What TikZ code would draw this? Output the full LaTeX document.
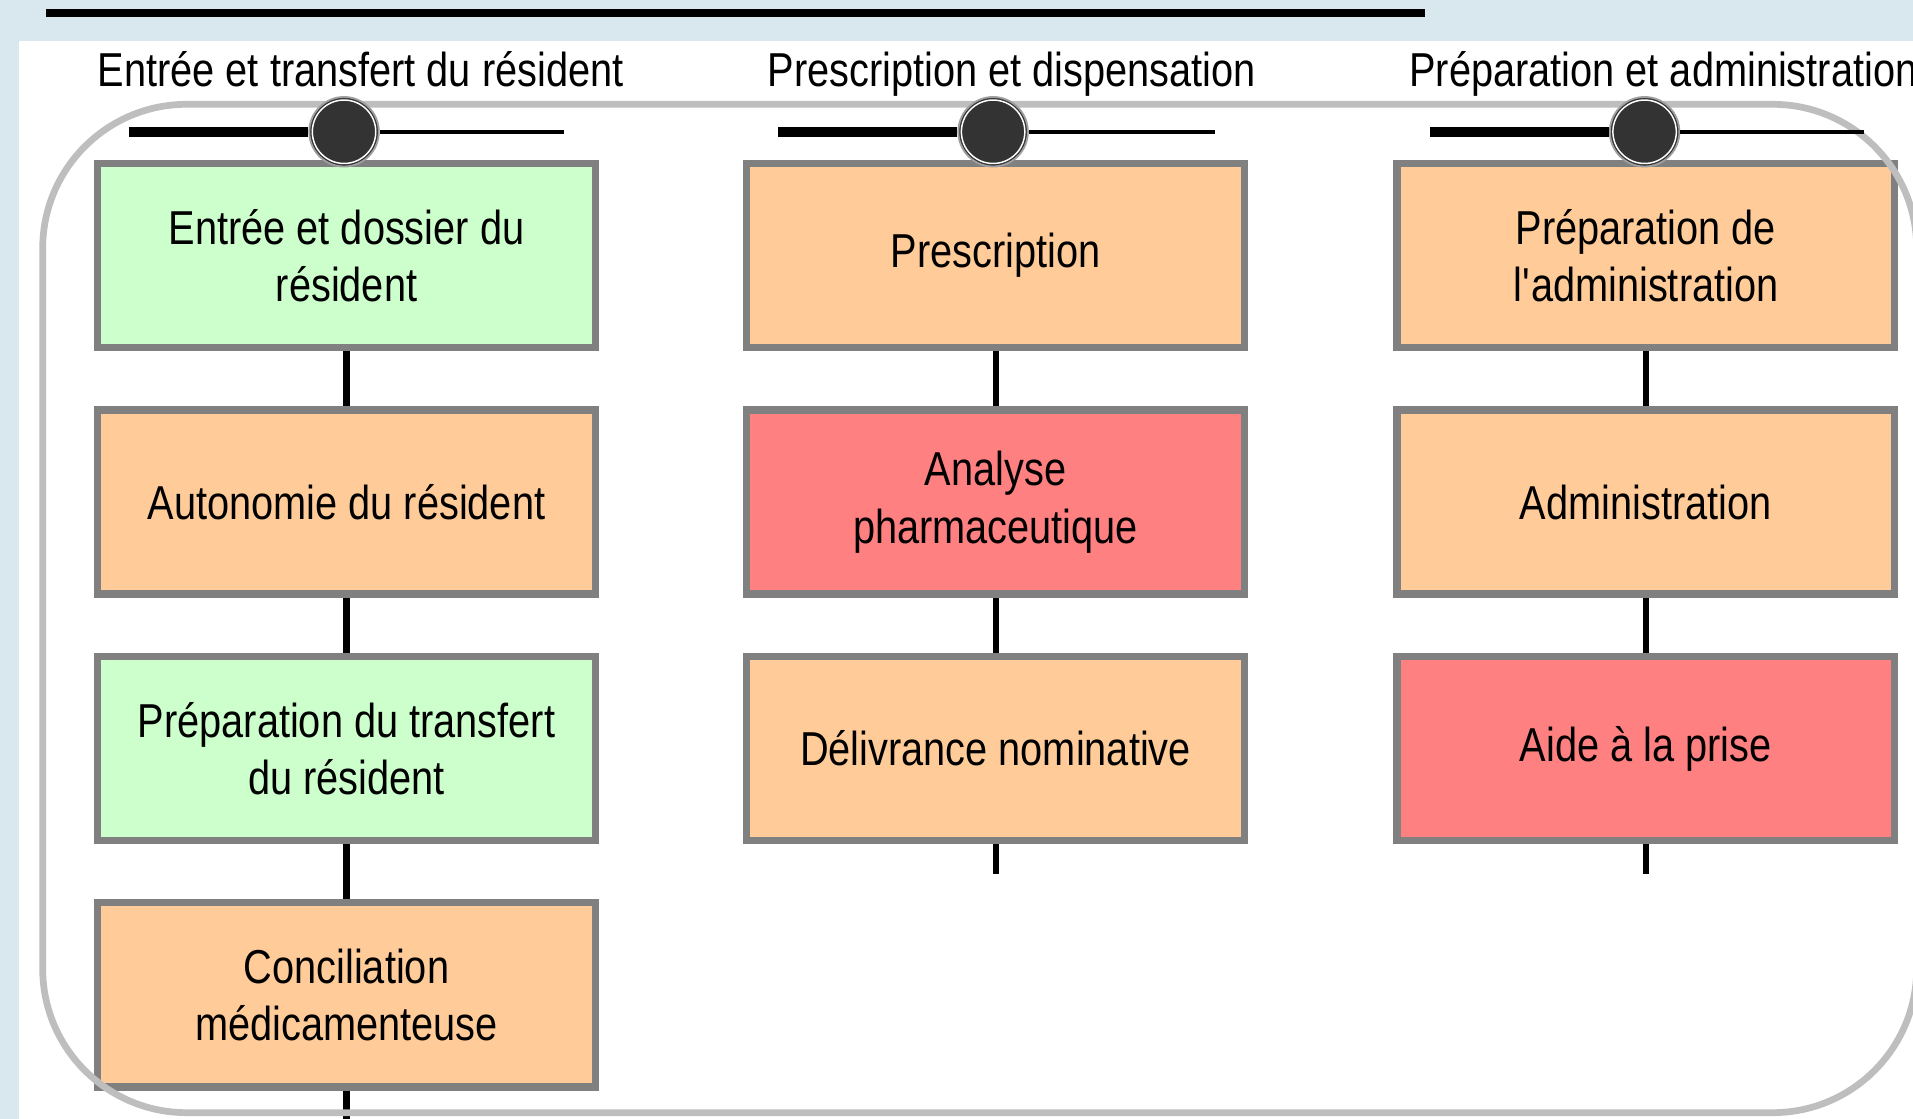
\documentclass[tikz,border=0pt]{standalone}
\usepackage{fontspec}
\setmainfont[FakeStretch=0.835]{Liberation Sans}
\usetikzlibrary{positioning}
\definecolor{fondbleu}{HTML}{D8E8EE}
\definecolor{cvert}{HTML}{CCFFCC}
\definecolor{corange}{HTML}{FFCC99}
\definecolor{crouge}{HTML}{FF8080}
\definecolor{bordgris}{HTML}{808080}
\definecolor{cadregris}{HTML}{BEBEBE}
\definecolor{jalongris}{HTML}{333333}
\tikzset{
	etape/.style 2 args={draw=bordgris,line width=6pt,fill=#1,minimum width=408pt,minimum height=151pt,inner sep=0pt,outer sep=0pt,align=center,font=\fontsize{39}{47}\selectfont,name=#2},
	jalon/.style={circle,fill=jalongris,draw=gray!75,line width=1.5pt,minimum size=57pt,inner sep=0pt,name=#1},
	titre/.style={anchor=base west,inner sep=0pt,font=\fontsize{39}{47}\selectfont},
	lien/.style={line width=5pt,shorten <=3pt,shorten >=3pt}
}
\begin{document}
\begin{tikzpicture}[x=1pt,y=-1pt]
	\useasboundingbox (0,0) rectangle (1568,917);
	\fill [fondbleu] (0,0) rectangle (1568,917);
	\fill [white] (15.6,33.6) rectangle (1568,917);
	\fill [black] (38,7.6) rectangle (1168,13.7);

	% entree et transfert
	\node [etape={cvert}{e1}] at (284,209.5) {Entrée et dossier du\\résident};
	\node [etape={corange}{e2}, below=51pt of e1] {Autonomie du résident};
	\node [etape={cvert}{e3}, below=51pt of e2] {Préparation du transfert\\du résident};
	\node [etape={corange}{e4}, below=51pt of e3] {Conciliation\\médicamenteuse};
	\coordinate (e5) at (284,925);
	\draw [lien] (e1) -- (e2);
	\draw [lien] (e2) -- (e3);
	\draw [lien] (e3) -- (e4);
	\draw [lien, shorten >=0pt] (e4) -- (e5);

	% prescription et dispensation
	\node [etape={corange}{p1}] at (816,209.5) {Prescription};
	\node [etape={crouge}{p2}, below=51pt of p1] {Analyse\\pharmaceutique};
	\node [etape={corange}{p3}, below=51pt of p2] {Délivrance nominative};
	\coordinate (p4) at (816,716);
	\draw [lien] (p1) -- (p2);
	\draw [lien] (p2) -- (p3);
	\draw [lien, shorten >=0pt] (p3) -- (p4);

	% preparation et administration
	\node [etape={corange}{a1}] at (1349,209.5) {Préparation de\\l\textquotesingle administration};
	\node [etape={corange}{a2}, below=51pt of a1] {Administration};
	\node [etape={crouge}{a3}, below=51pt of a2] {Aide à la prise};
	\coordinate (a4) at (1349,716);
	\draw [lien] (a1) -- (a2);
	\draw [lien] (a2) -- (a3);
	\draw [lien, shorten >=0pt] (a3) -- (a4);

	\draw [cadregris, line width=5.5pt, rounded corners=118pt] (35,85.5) rectangle (1571,912);

	\node [jalon=j1] at (282,108) {};
	\node [jalon=j2] at (814,108) {};
	\node [jalon=j3] at (1348,108) {};
	\draw [white, line width=1.2pt] (j1) circle (26pt);
	\draw [white, line width=1.2pt] (j2) circle (26pt);
	\draw [white, line width=1.2pt] (j3) circle (26pt);
	\coordinate (j1g) at (106,108); \coordinate (j1d) at (462,108);
	\coordinate (j2g) at (638,108); \coordinate (j2d) at (996,108);
	\coordinate (j3g) at (1172,108); \coordinate (j3d) at (1528,108);
	\draw [line width=8pt] (j1g) -- (j1);
	\draw [line width=3.5pt] (j1) -- (j1d);
	\draw [line width=8pt] (j2g) -- (j2);
	\draw [line width=3.5pt] (j2) -- (j2d);
	\draw [line width=8pt] (j3g) -- (j3);
	\draw [line width=3.5pt] (j3) -- (j3d);

	\node [titre] (t1) at (80,70.5) {Entrée et transfert du résident};
	\node [titre] (t2) at (629,70.5) {Prescription et dispensation};
	\node [titre] (t3) at (1155,70.5) {Préparation et administration};
\end{tikzpicture}
\end{document}
